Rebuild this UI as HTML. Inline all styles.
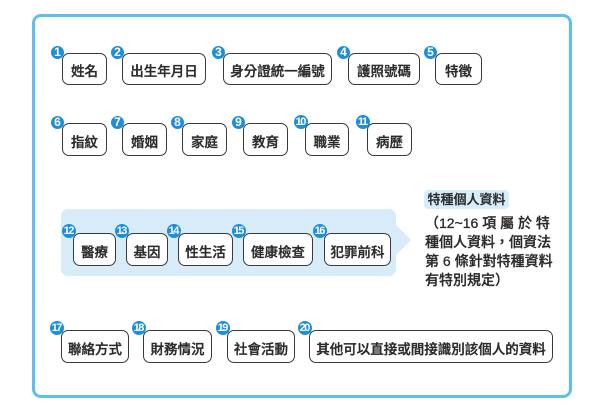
<!DOCTYPE html>
<html>
<head>
<meta charset="utf-8">
<style>
  html, body { margin:0; padding:0; background:#ffffff; }
  body { width:600px; height:413px; position:relative; overflow:hidden;
    font-family:"Liberation Sans","Noto Sans CJK TC","Noto Sans CJK SC",sans-serif; color:#2b2b2b; }
  .frame { position:absolute; left:32px; top:14px; width:540px; height:384px;
    box-sizing:border-box; border:3px solid #5cc0ea; border-radius:9px; }
  .band { position:absolute; left:61px; top:209px; width:335px; height:67px;
    background:#d7ecf8; border-radius:7px; }
  .arrow { position:absolute; left:395px; top:224px; width:0; height:0;
    border-top:16px solid transparent; border-bottom:16px solid transparent;
    border-left:16px solid #d7ecf8; }
  .box { position:absolute; box-sizing:border-box; border:1.6px solid #3a3a3a;
    border-radius:7px; background:#fff; display:flex; align-items:center;
    justify-content:center; font-size:13.5px; font-weight:500; white-space:nowrap; padding-top:2px;
    -webkit-text-stroke:0.35px #2b2b2b; }
  .num { position:absolute; width:13px; height:13px; border-radius:50%;
    background:#1c8fd8; color:#fff; font-family:"Liberation Sans",sans-serif;
    font-weight:bold; font-size:12px; line-height:13px; text-align:center; }
  .num.d { letter-spacing:-1.5px; font-size:11px; text-indent:-1.5px; width:14px; height:14px; line-height:14px; }
  .label { position:absolute; left:424px; top:190px; width:85px; height:19px;
    background:#d7eefa; border-radius:4px; font-size:13px; font-weight:500;
    line-height:19px; text-align:center; -webkit-text-stroke:0.3px #2b2b2b; }
  .line { position:absolute; left:425px; width:123px; font-size:14px; font-weight:500;
    line-height:19px; text-align:justify; text-align-last:justify; white-space:nowrap;
    -webkit-text-stroke:0.3px #2b2b2b; }
</style>
</head>
<body>
  <div class="frame"></div>
  <div class="band"></div>
  <div class="arrow"></div>

  <!-- Row 1 -->
  <div class="box" style="left:62px;top:53px;width:45px;height:32px;">姓名</div>
  <div class="box" style="left:122px;top:53px;width:84px;height:32px;">出生年月日</div>
  <div class="box" style="left:223px;top:53px;width:109px;height:32px;">身分證統一編號</div>
  <div class="box" style="left:348px;top:53px;width:72px;height:32px;">護照號碼</div>
  <div class="box" style="left:435px;top:53px;width:47px;height:32px;">特徵</div>

  <!-- Row 2 -->
  <div class="box" style="left:62px;top:123px;width:45px;height:33px;">指紋</div>
  <div class="box" style="left:122px;top:123px;width:45px;height:33px;">婚姻</div>
  <div class="box" style="left:182px;top:123px;width:45px;height:33px;">家庭</div>
  <div class="box" style="left:243px;top:123px;width:45px;height:33px;">教育</div>
  <div class="box" style="left:305px;top:123px;width:44px;height:33px;">職業</div>
  <div class="box" style="left:367px;top:123px;width:45px;height:33px;">病歷</div>

  <!-- Row 3 -->
  <div class="box" style="left:73px;top:233px;width:43px;height:33px;">醫療</div>
  <div class="box" style="left:126px;top:233px;width:42px;height:33px;">基因</div>
  <div class="box" style="left:178px;top:233px;width:55px;height:33px;">性生活</div>
  <div class="box" style="left:243px;top:233px;width:70px;height:33px;">健康檢查</div>
  <div class="box" style="left:324px;top:233px;width:67px;height:33px;">犯罪前科</div>

  <!-- Row 4 -->
  <div class="box" style="left:61px;top:330px;width:68px;height:33px;">聯絡方式</div>
  <div class="box" style="left:143px;top:330px;width:69px;height:33px;">財務情況</div>
  <div class="box" style="left:227px;top:330px;width:68px;height:33px;">社會活動</div>
  <div class="box" style="left:309px;top:330px;width:244px;height:33px;">其他可以直接或間接識別該個人的資料</div>

  <!-- Number circles -->
  <div class="num" style="left:51px;top:46px;">1</div>
  <div class="num" style="left:111px;top:46px;">2</div>
  <div class="num" style="left:212px;top:46px;">3</div>
  <div class="num" style="left:337px;top:46px;">4</div>
  <div class="num" style="left:424px;top:46px;">5</div>

  <div class="num" style="left:51px;top:116px;">6</div>
  <div class="num" style="left:111px;top:116px;">7</div>
  <div class="num" style="left:171px;top:116px;">8</div>
  <div class="num" style="left:232px;top:116px;">9</div>
  <div class="num d" style="left:294px;top:115px;">10</div>
  <div class="num d" style="left:356px;top:115px;">11</div>

  <div class="num d" style="left:62px;top:224px;">12</div>
  <div class="num d" style="left:115px;top:224px;">13</div>
  <div class="num d" style="left:167px;top:224px;">14</div>
  <div class="num d" style="left:232px;top:224px;">15</div>
  <div class="num d" style="left:313px;top:224px;">16</div>

  <div class="num d" style="left:50px;top:321px;">17</div>
  <div class="num d" style="left:132px;top:321px;">18</div>
  <div class="num d" style="left:216px;top:321px;">19</div>
  <div class="num d" style="left:298px;top:321px;">20</div>

  <!-- Right-side note -->
  <div class="label">特種個人資料</div>
  <div class="line" style="top:214px;">（12~16 項 屬 於 特</div>
  <div class="line" style="top:233px;">種個人資料，個資法</div>
  <div class="line" style="top:252px;">第 6 條針對特種資料</div>
  <div class="line" style="top:271px;text-align-last:left;">有特別規定）</div>
</body>
</html>
